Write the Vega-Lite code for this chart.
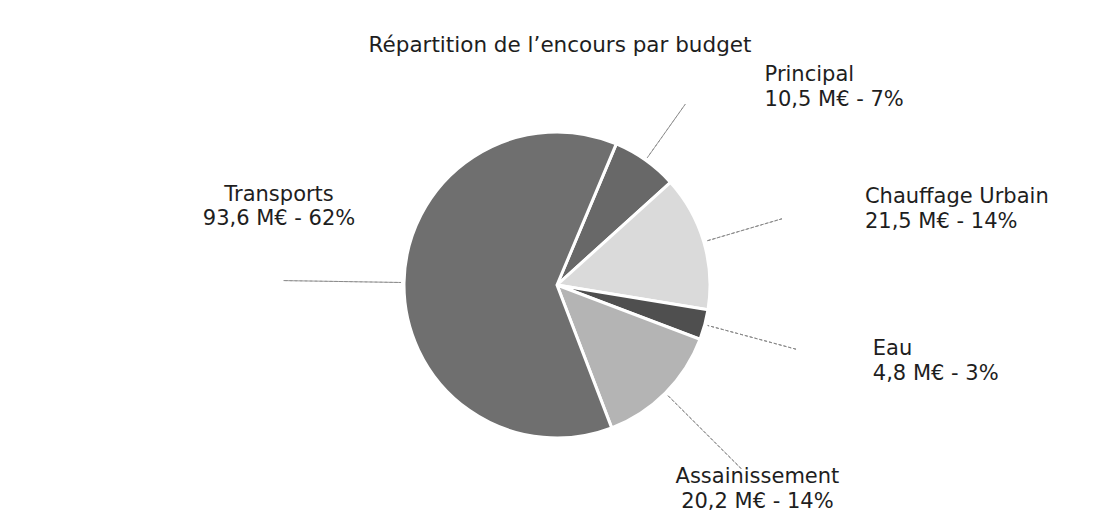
{
  "$schema": "https://vega.github.io/schema/vega-lite/v6.json",
  "width": 1078,
  "height": 478,
  "autosize": {"type": "none"},
  "padding": {"left": 18, "top": 46, "right": 0, "bottom": 0},
  "background": "white",
  "title": {
    "text": "Répartition de l’encours par budget",
    "font": "DejaVu Sans",
    "fontSize": 21.5,
    "fontWeight": "normal",
    "color": "#1e1e1e",
    "anchor": "middle",
    "frame": "group",
    "baseline": "bottom",
    "offset": -8,
    "dy": 24,
    "dx": 3
  },
  "config": {"view": {"stroke": null}},
  "data": {
    "values": [
      {"budget": "Principal", "montant": 10.5, "detail": "10,5 M€ - 7%", "rang": 1},
      {"budget": "Chauffage Urbain", "montant": 21.5, "detail": "21,5 M€ - 14%", "rang": 2},
      {"budget": "Eau", "montant": 4.8, "detail": "4,8 M€ - 3%", "rang": 3},
      {"budget": "Assainissement", "montant": 20.2, "detail": "20,2 M€ - 14%", "rang": 4},
      {"budget": "Transports", "montant": 93.6, "detail": "93,6 M€ - 62%", "rang": 5}
    ]
  },
  "transform": [
    {"joinaggregate": [{"op": "sum", "field": "montant", "as": "total"}]},
    {"window": [{"op": "sum", "field": "montant", "as": "cumul"}], "sort": [{"field": "rang"}], "frame": [null, 0]},
    {"calculate": "(datum.cumul - datum.montant) / datum.total", "as": "debut"},
    {"calculate": "datum.cumul / datum.total", "as": "fin"},
    {"calculate": "(datum.cumul - datum.montant / 2) / datum.total", "as": "milieu"},
    {"calculate": "[datum.budget, datum.detail]", "as": "etiquette"}
  ],
  "layer": [
    {
      "mark": {"type": "arc", "radius": 153, "stroke": "white", "strokeWidth": 3},
      "encoding": {
        "theta": {"field": "debut", "type": "quantitative", "stack": null, "scale": {"domain": [0, 1], "range": [0.398, 6.681], "nice": false}},
        "theta2": {"field": "fin"},
        "color": {
          "field": "budget",
          "type": "nominal",
          "legend": null,
          "scale": {
            "domain": ["Principal", "Chauffage Urbain", "Eau", "Assainissement", "Transports"],
            "range": ["#686868", "#dadada", "#4f4f4f", "#b4b4b4", "#6f6f6f"]
          }
        }
      }
    },
    {
      "mark": {"type": "arc", "filled": false, "stroke": "#8a8a8a", "strokeWidth": 1, "strokeDash": [3, 2]},
      "encoding": {
        "theta": {"field": "milieu", "type": "quantitative", "stack": null, "scale": {"domain": [0, 1], "range": [0.398, 6.681], "nice": false}},
        "theta2": {"field": "milieu"},
        "radius": {
          "field": "budget",
          "type": "nominal",
          "legend": null,
          "scale": {
            "type": "ordinal",
            "domain": ["Principal", "Chauffage Urbain", "Eau", "Assainissement", "Transports"],
            "range": [215, 280, 282, 235, 255]
          }
        },
        "radius2": {"value": 156}
      }
    },
    {
      "transform": [{"filter": "datum.budget == 'Principal'"}],
      "mark": {"type": "text", "radius": 243, "dx": 67, "dy": -12, "align": "left", "baseline": "middle", "font": "DejaVu Sans", "fontSize": 21, "lineHeight": 25, "color": "#1e1e1e"},
      "encoding": {
        "theta": {"field": "milieu", "type": "quantitative", "stack": null, "scale": {"domain": [0, 1], "range": [0.398, 6.681], "nice": false}},
        "text": {"field": "etiquette"}
      }
    },
    {
      "transform": [{"filter": "datum.budget == 'Chauffage Urbain'"}],
      "mark": {"type": "text", "radius": 321, "dy": 3, "align": "left", "baseline": "middle", "font": "DejaVu Sans", "fontSize": 21, "lineHeight": 25, "color": "#1e1e1e"},
      "encoding": {
        "theta": {"field": "milieu", "type": "quantitative", "stack": null, "scale": {"domain": [0, 1], "range": [0.398, 6.681], "nice": false}},
        "text": {"field": "etiquette"}
      }
    },
    {
      "transform": [{"filter": "datum.budget == 'Eau'"}],
      "mark": {"type": "text", "radius": 327, "dy": -21, "align": "left", "baseline": "middle", "font": "DejaVu Sans", "fontSize": 21, "lineHeight": 25, "color": "#1e1e1e"},
      "encoding": {
        "theta": {"field": "milieu", "type": "quantitative", "stack": null, "scale": {"domain": [0, 1], "range": [0.398, 6.681], "nice": false}},
        "text": {"field": "etiquette"}
      }
    },
    {
      "transform": [{"filter": "datum.budget == 'Assainissement'"}],
      "mark": {"type": "text", "radius": 283, "dy": -8, "align": "center", "baseline": "middle", "font": "DejaVu Sans", "fontSize": 21, "lineHeight": 25, "color": "#1e1e1e"},
      "encoding": {
        "theta": {"field": "milieu", "type": "quantitative", "stack": null, "scale": {"domain": [0, 1], "range": [0.398, 6.681], "nice": false}},
        "text": {"field": "etiquette"}
      }
    },
    {
      "transform": [{"filter": "datum.budget == 'Transports'"}],
      "mark": {"type": "text", "radius": 280, "dy": -85, "dx": 2, "align": "center", "baseline": "middle", "font": "DejaVu Sans", "fontSize": 21, "lineHeight": 24, "color": "#1e1e1e"},
      "encoding": {
        "theta": {"field": "milieu", "type": "quantitative", "stack": null, "scale": {"domain": [0, 1], "range": [0.398, 6.681], "nice": false}},
        "text": {"field": "etiquette"}
      }
    }
  ]
}
